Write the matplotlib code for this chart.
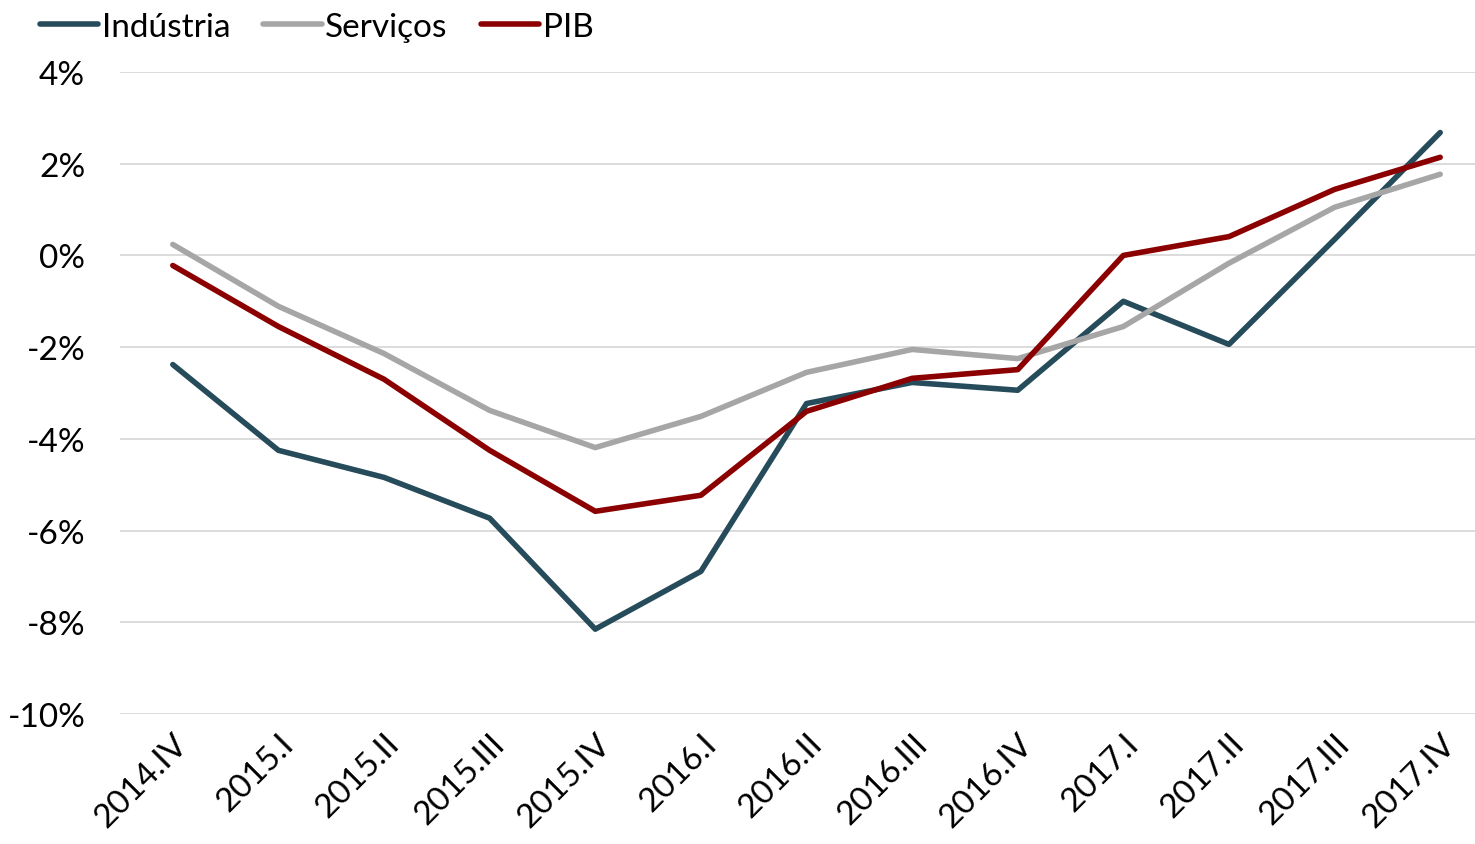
import matplotlib
matplotlib.use("Agg")
import matplotlib.pyplot as plt
import numpy as np

quarters = ["2014.IV", "2015.I", "2015.II", "2015.III", "2015.IV", "2016.I", "2016.II",
            "2016.III", "2016.IV", "2017.I", "2017.II", "2017.III", "2017.IV"]
industria = [-2.38, -4.25, -4.84, -5.73, -8.15, -6.89, -3.23, -2.77, -2.94, -1.0, -1.94, 0.35, 2.68]
servicos = [0.24, -1.11, -2.14, -3.38, -4.19, -3.51, -2.55, -2.05, -2.25, -1.55, -0.17, 1.05, 1.77]
pib = [-0.22, -1.55, -2.70, -4.25, -5.58, -5.23, -3.40, -2.68, -2.49, 0.0, 0.41, 1.44, 2.14]

plt.rcParams['font.family'] = ['Lato', 'DejaVu Sans']

fig = plt.figure(figsize=(14.75, 8.45), dpi=100)
ax = fig.add_axes([120 / 1475, 1 - 715 / 845, (1493 - 120) / 1475, (715 - 73) / 845])

x = np.arange(len(quarters))
ax.plot(x, industria, color="#264B5A", lw=4, label="Indústria", solid_capstyle="round")
ax.plot(x, servicos, color="#A6A6A6", lw=4, label="Serviços", solid_capstyle="round")
ax.plot(x, pib, color="#8B0000", lw=4, label="PIB", solid_capstyle="round")

ax.set_xlim(-0.5, len(quarters) - 0.5)
ax.set_ylim(-10, 4)
ax.set_yticks(range(-10, 5, 2))
ax.set_yticklabels([f"{v}%" for v in range(-10, 5, 2)], fontsize=24)
ax.set_xticks(x)
ax.set_xticklabels(quarters, rotation=45, ha="right", rotation_mode="anchor", fontsize=24)
ax.grid(axis="y", color="#D9D9D9", lw=1.3)
ax.set_axisbelow(True)
for s in ax.spines.values():
    s.set_visible(False)
ax.tick_params(axis="x", length=0, pad=10)
ax.tick_params(axis="y", length=0, pad=25)

ax.legend(loc="upper left", bbox_to_anchor=(-0.068, 1.115), ncol=3, frameon=False, fontsize=24,
          handlelength=1.75, handletextpad=0.1, columnspacing=1.0, borderaxespad=0)

fig.savefig("out.png", dpi=100)
